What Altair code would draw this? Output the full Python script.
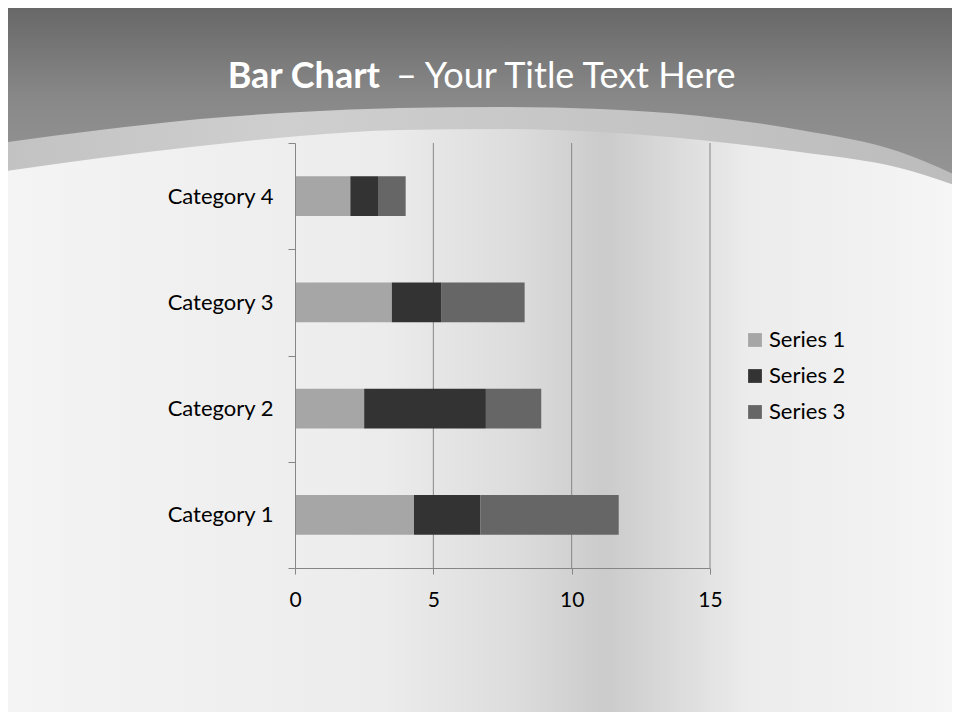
import altair as alt
import pandas as pd

# ---- chart data ----
categories = ["Category 1", "Category 2", "Category 3", "Category 4"]
series_names = ["Series 1", "Series 2", "Series 3"]
series_1 = [4.3, 2.5, 3.5, 2.0]
series_2 = [2.4, 4.4, 1.8, 1.0]
series_3 = [5.0, 2.0, 3.0, 1.0]
series_colors = ["#a6a6a6", "#333333", "#666666"]
x_ticks = [0, 5, 10, 15]
grid_values = [5, 10, 15]
title_bold = "Bar Chart"
title_rest = "\u2013 Your Title Text Here"

# ---- background decoration (page pixel coordinates) ----
curve_x = [0, 100, 200, 300, 400, 500, 600, 700, 800, 900, 960]
dark_edge_y = [143, 130, 119, 112, 108, 107, 109, 116, 130, 152, 177]
band_edge_y = [172, 158, 146, 136, 130, 129, 132, 140, 152, 168, 187]

PL, PT = 295, 143          # plot-area origin on the page
W, H = 415, 425            # plot-area size
FONT = "Lato"

rows = []
for vals, s in zip([series_1, series_2, series_3], series_names):
    for c, v in zip(categories, vals):
        rows.append({"category": c, "series": s, "value": v})
bars_df = pd.DataFrame(rows)

curve_df = pd.DataFrame({
    "x": [v - PL for v in curve_x],
    "dark": [v - PT for v in dark_edge_y],
    "band": [v - PT for v in band_edge_y],
    "top": [-PT] * len(curve_x),
})
one = pd.DataFrame({"a": [0]})

bg_rect = alt.Chart(one).mark_rect(
    color=alt.Gradient(
        gradient="linear", x1=0, x2=1, y1=0, y2=0,
        stops=[
            alt.GradientStop(color="#f4f4f4", offset=0),
            alt.GradientStop(color="#f1f1f1", offset=0.15),
            alt.GradientStop(color="#ececec", offset=0.40),
            alt.GradientStop(color="#dcdcdc", offset=0.54),
            alt.GradientStop(color="#cbcbcb", offset=0.63),
            alt.GradientStop(color="#dadada", offset=0.70),
            alt.GradientStop(color="#ececec", offset=0.78),
            alt.GradientStop(color="#f1f1f1", offset=0.90),
            alt.GradientStop(color="#f6f6f6", offset=1),
        ],
    )
).encode(
    x=alt.value(-PL), x2=alt.value(960 - PL),
    y=alt.value(-PT), y2=alt.value(720 - PT),
)

band = alt.Chart(curve_df).mark_area(
    interpolate="monotone",
    color=alt.Gradient(
        gradient="linear", x1=0, x2=1, y1=0, y2=0,
        stops=[
            alt.GradientStop(color="#c2c2c2", offset=0),
            alt.GradientStop(color="#cfcfcf", offset=0.3),
            alt.GradientStop(color="#c6c6c6", offset=0.6),
            alt.GradientStop(color="#bcbcbc", offset=1),
        ],
    ),
).encode(
    x=alt.X("x:Q", scale=None),
    y=alt.Y("band:Q", scale=None),
    y2=alt.Y2("top:Q"),
)

dark = alt.Chart(curve_df).mark_area(
    interpolate="monotone",
    color=alt.Gradient(
        gradient="linear", x1=0, x2=0, y1=0, y2=1,
        stops=[
            alt.GradientStop(color="#656565", offset=0),
            alt.GradientStop(color="#888888", offset=0.55),
            alt.GradientStop(color="#959595", offset=1),
        ],
    ),
).encode(
    x=alt.X("x:Q", scale=None),
    y=alt.Y("dark:Q", scale=None),
    y2=alt.Y2("top:Q"),
)

t1 = alt.Chart(one).mark_text(
    text=title_bold, font=FONT, fontSize=36, fontWeight="bold",
    color="white", align="right", baseline="alphabetic",
).encode(x=alt.value(380 - PL), y=alt.value(88 - PT))

t2 = alt.Chart(one).mark_text(
    text=title_rest, font=FONT, fontSize=36, fontWeight="normal",
    color="white", align="left", baseline="alphabetic",
).encode(x=alt.value(396 - PL), y=alt.value(88 - PT))

grid = alt.Chart(pd.DataFrame({"g": grid_values})).mark_rule(
    color="#868686", strokeWidth=1
).encode(x=alt.X("g:Q", scale=alt.Scale(domain=[0, 15], nice=False), axis=None))

bars = alt.Chart(bars_df).mark_bar(height={"band": 0.376}).encode(
    x=alt.X("value:Q", stack="zero",
            scale=alt.Scale(domain=[0, 15], nice=False),
            axis=alt.Axis(values=x_ticks, title=None, grid=False, zindex=1,
                          tickSize=6, labelPadding=15, labelFontSize=21,
                          labelFlush=False,
                          labelFont=FONT, labelColor="black",
                          domainColor="#868686", tickColor="#868686")),
    y=alt.Y("category:N", sort=categories[::-1],
            scale=alt.Scale(paddingInner=0, paddingOuter=0),
            axis=alt.Axis(title=None, tickBand="extent", grid=False, zindex=1,
                          tickSize=7, labelPadding=15, labelFontSize=22,
                          labelFont=FONT, labelColor="black",
                          domainColor="#868686", tickColor="#868686")),
    color=alt.Color("series:N",
                    scale=alt.Scale(domain=series_names, range=series_colors),
                    legend=alt.Legend(title=None, orient="none",
                                      legendX=449, legendY=186,
                                      symbolType="square", symbolSize=190,
                                      symbolStrokeWidth=0, labelFontSize=22,
                                      labelFont=FONT, labelColor="black",
                                      rowPadding=14, labelOffset=3)),
    order=alt.Order("series:N"),
)

chart = alt.layer(bg_rect, band, dark, t1, t2, grid, bars).resolve_scale(
    x="independent", y="independent"
).properties(
    width=W, height=H,
    autosize=alt.AutoSizeParams(type="none"),
    padding={"left": PL - 8, "top": PT - 8, "right": 944 - (PL - 8) - W,
             "bottom": 704 - (PT - 8) - H},
).configure_view(stroke=None).configure(background="#f2f2f2")

chart.save("out.html", embed_options={"renderer": "svg", "actions": False})
